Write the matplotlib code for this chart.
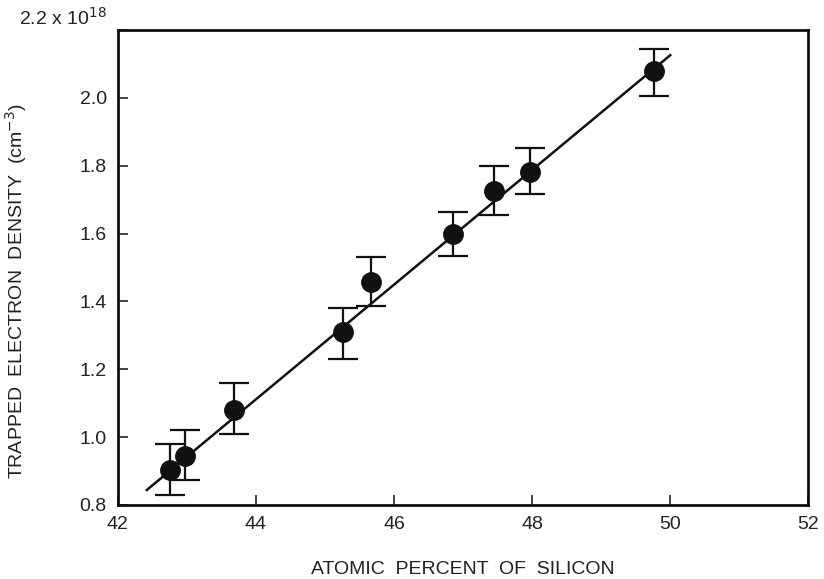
import matplotlib
matplotlib.use('Agg')
import matplotlib.pyplot as plt
import matplotlib.transforms as mtransforms

plt.rcParams['font.family'] = ['Liberation Sans', 'DejaVu Sans']

# атомный процент кремния и плотность захваченных электронов (x 1e18 см^-3)
si_percent = [42.75, 42.97, 43.68, 45.26, 45.67, 46.86, 47.45, 47.97, 49.77]
density = [0.903, 0.944, 1.08, 1.31, 1.456, 1.60, 1.726, 1.782, 2.08]
err_low = [0.073, 0.070, 0.070, 0.080, 0.071, 0.065, 0.070, 0.064, 0.074]
err_high = [0.077, 0.076, 0.080, 0.070, 0.074, 0.065, 0.074, 0.071, 0.064]

# аппроксимирующая прямая
fit_x = [42.42, 50.0]
fit_y = [0.844, 2.126]

x_ticks = [42, 44, 46, 48, 50, 52]
y_ticks = [0.8, 1.0, 1.2, 1.4, 1.6, 1.8, 2.0, 2.2]
y_labels = ['0.8', '1.0', '1.2', '1.4', '1.6', '1.8', '2.0', '2.2 x 10$^{18}$']

fig = plt.figure(figsize=(8.24, 5.79), dpi=100)
ax = fig.add_axes([0.143, 0.128, 0.838, 0.82])

ax.plot(fit_x, fit_y, color='#111111', lw=1.8, zorder=2)
ax.errorbar(si_percent, density, yerr=[err_low, err_high], fmt='o', color='#111111',
            markersize=14, ecolor='#111111', elinewidth=1.6, capsize=11, capthick=1.6,
            zorder=3)

ax.set_xlim(42, 52)
ax.set_ylim(0.8, 2.2)
ax.set_xticks(x_ticks)
ax.set_yticks(y_ticks)
ax.set_yticklabels(y_labels)
ax.tick_params(direction='in', length=7, width=1.2, labelsize=14, colors='#222222',
               pad=8)
# верхнюю подпись чуть приподнять
top_lbl = ax.get_yticklabels()[-1]
top_lbl.set_transform(top_lbl.get_transform() +
                      mtransforms.ScaledTranslation(0, 10 / 72, fig.dpi_scale_trans))
for s in ax.spines.values():
    s.set_linewidth(2)
    s.set_color('#111111')

ax.set_xlabel('ATOMIC  PERCENT  OF  SILICON', fontsize=14, color='#222222', labelpad=20)
ax.set_ylabel('TRAPPED  ELECTRON  DENSITY  (cm$^{-3}$)', fontsize=14, color='#222222')
ax.yaxis.set_label_coords(-0.128, 0.45)

fig.savefig('out.png', dpi=100)
